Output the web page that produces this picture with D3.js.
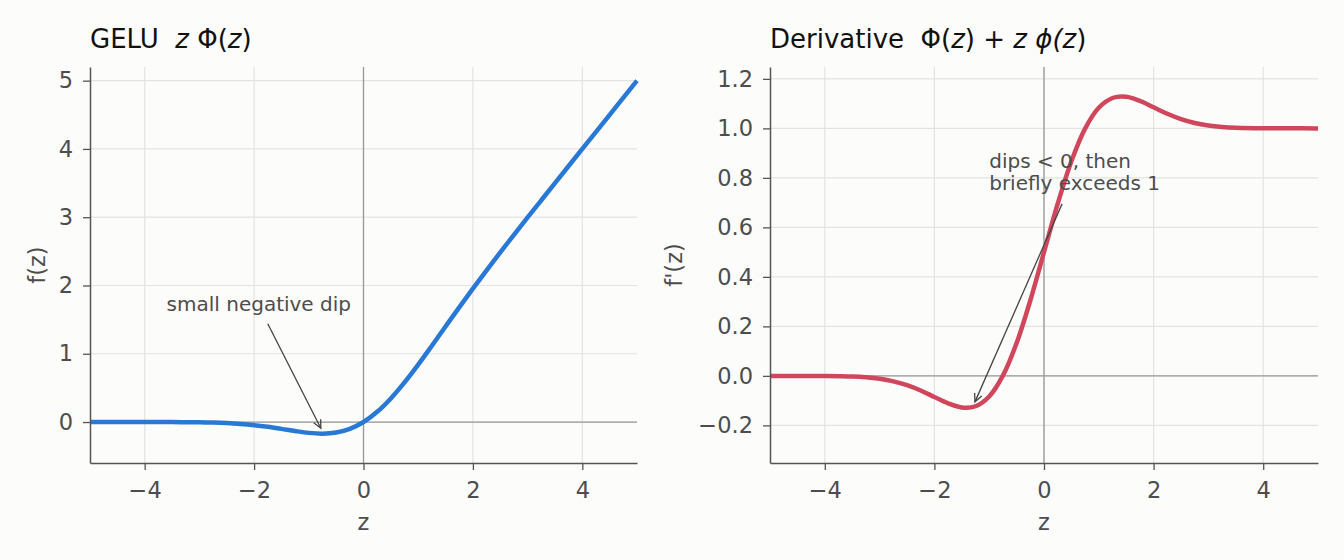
<!DOCTYPE html>
<html>
<head>
<meta charset="utf-8">
<script src="https://cdn.jsdelivr.net/npm/d3@7"></script>
<style>
  body { margin: 0; background: #fcfcfa; }
  svg { display: block; font-family: "DejaVu Sans", sans-serif; }
</style>
</head>
<body>
<div id="chart"></div>
<script>
// sample points
const zs = [-5, -4.5, -4, -3.5, -3.25, -3, -2.75, -2.5, -2.25, -2, -1.75, -1.5, -1.25, -1, -0.75, -0.5, -0.25,
  0, 0.25, 0.5, 0.75, 1, 1.25, 1.5, 1.75, 2, 2.25, 2.5, 2.75, 3, 3.25, 3.5, 4, 4.5, 5];
const gelu = [0, 0, -0.0001, -0.0008, -0.0019, -0.004, -0.0082, -0.0155, -0.0275, -0.0455, -0.0702, -0.1002, -0.132, -0.1587, -0.17, -0.1543, -0.1003,
  0, 0.1497, 0.3457, 0.58, 0.8413, 1.118, 1.3998, 1.6798, 1.9545, 2.2225, 2.4845, 2.7418, 2.996, 3.2481, 3.4992, 3.9999, 4.5, 5.0];
const deriv = [0, -0.0001, -0.0005, -0.0028, -0.006, -0.012, -0.022, -0.0376, -0.0591, -0.0852, -0.1109, -0.1275, -0.1227, -0.0833, 0.0008, 0.1325, 0.3046,
  0.5, 0.6954, 0.8675, 0.9992, 1.0833, 1.1227, 1.1275, 1.1109, 1.0852, 1.0591, 1.0376, 1.022, 1.012, 1.006, 1.0028, 1.0005, 1.0001, 1.0];

const xTicks = [-4, -2, 0, 2, 4];
const yTicksL = [0, 1, 2, 3, 4, 5];
const yTicksR = [-0.2, 0, 0.2, 0.4, 0.6, 0.8, 1.0, 1.2];

const width = 1344, height = 560;
const marginTop = 67, plotBottom = 463;
const tickFont = 22.5;

const svg = d3.create("svg")
  .attr("width", width)
  .attr("height", height)
  .attr("viewBox", [0, 0, width, height]);
d3.select("#chart").append(() => svg.node());

svg.append("rect").attr("width", width).attr("height", height).attr("fill", "#fcfcfa");

function panel(opt) {
  const x = d3.scaleLinear([-5, 5], [opt.left, opt.right]);
  const y = d3.scaleLinear(opt.yDomain, [plotBottom, marginTop]);
  const g = svg.append("g");

  // grid
  g.append("g").selectAll("line").data(xTicks).join("line")
    .attr("x1", d => x(d)).attr("x2", d => x(d))
    .attr("y1", marginTop).attr("y2", plotBottom)
    .attr("stroke", "#e3e3e3").attr("stroke-width", 1.2);
  g.append("g").selectAll("line").data(opt.yTicks).join("line")
    .attr("x1", opt.left).attr("x2", opt.right)
    .attr("y1", d => y(d)).attr("y2", d => y(d))
    .attr("stroke", "#e3e3e3").attr("stroke-width", 1.2);

  // zero lines
  g.append("line")
    .attr("x1", x(0)).attr("x2", x(0)).attr("y1", marginTop).attr("y2", plotBottom)
    .attr("stroke", "#999").attr("stroke-width", 1.3);
  g.append("line")
    .attr("x1", opt.left).attr("x2", opt.right).attr("y1", y(0)).attr("y2", y(0))
    .attr("stroke", "#999").attr("stroke-width", 1.3);

  // curve
  const line = d3.line()
    .x((d, i) => x(zs[i]))
    .y(d => y(d))
    .curve(d3.curveCatmullRom.alpha(0.5));
  g.append("path")
    .attr("fill", "none")
    .attr("stroke", opt.color)
    .attr("stroke-width", 4.5)
    .attr("stroke-linejoin", "round")
    .attr("d", line(opt.values));

  // axes
  g.append("g")
    .attr("transform", `translate(0,${plotBottom})`)
    .call(d3.axisBottom(x).tickValues(xTicks).tickSize(7).tickSizeOuter(0).tickPadding(12)
      .tickFormat(d => d3.format("d")(d).replace("-", "\u2212")))
    .call(a => a.select(".domain").attr("stroke", "#555").attr("stroke-width", 1.5))
    .call(a => a.selectAll(".tick line").attr("stroke", "#555").attr("stroke-width", 1.3))
    .call(a => a.selectAll(".tick text").attr("fill", "#4d4d4d").attr("font-size", tickFont)
      .attr("font-family", "DejaVu Sans"));
  g.append("g")
    .attr("transform", `translate(${opt.left},0)`)
    .call(d3.axisLeft(y).tickValues(opt.yTicks).tickSize(7).tickSizeOuter(0).tickPadding(10)
      .tickFormat(d => opt.yFormat(d).replace("-", "\u2212")))
    .call(a => a.select(".domain").attr("stroke", "#555").attr("stroke-width", 1.5))
    .call(a => a.selectAll(".tick line").attr("stroke", "#555").attr("stroke-width", 1.3))
    .call(a => a.selectAll(".tick text").attr("fill", "#4d4d4d").attr("font-size", tickFont)
      .attr("font-family", "DejaVu Sans"));

  // labels
  g.append("text")
    .attr("x", (opt.left + opt.right) / 2).attr("y", 530)
    .attr("text-anchor", "middle").attr("fill", "#4d4d4d").attr("font-size", tickFont)
    .text("z");
  g.append("text")
    .attr("transform", `translate(${opt.yLabelX},265) rotate(-90)`)
    .attr("text-anchor", "middle").attr("fill", "#4d4d4d").attr("font-size", tickFont)
    .text(opt.yLabel);

  // title
  const t = g.append("text")
    .attr("x", opt.left).attr("y", 48)
    .attr("fill", "#111").attr("font-size", 26);
  opt.title.forEach(([s, it]) => t.append("tspan")
    .attr("font-style", it ? "italic" : "normal")
    .attr("xml:space", "preserve")
    .text(s));

  // annotation
  const a = opt.note;
  const txt = g.append("text")
    .attr("x", x(a.tx)).attr("y", y(a.ty))
    .attr("fill", "#4d4d4d").attr("font-size", 20);
  a.lines.forEach((s, i) => txt.append("tspan").attr("x", x(a.tx)).attr("dy", i ? 22 : 0).text(s));
  const x1 = x(a.fx), y1 = y(a.fy), x2 = x(a.px), y2 = y(a.py);
  g.append("line")
    .attr("x1", x1).attr("y1", y1).attr("x2", x2).attr("y2", y2)
    .attr("stroke", "#444").attr("stroke-width", 1.3);
  const ang = Math.atan2(y2 - y1, x2 - x1);
  const hl = 9, hw = 0.45;
  g.append("path")
    .attr("d", `M${x2 - hl * Math.cos(ang - hw)},${y2 - hl * Math.sin(ang - hw)}L${x2},${y2}L${x2 - hl * Math.cos(ang + hw)},${y2 - hl * Math.sin(ang + hw)}`)
    .attr("fill", "none").attr("stroke", "#444").attr("stroke-width", 1.3);
}

panel({
  left: 90, right: 637, yDomain: [-0.6, 5.2], yTicks: yTicksL, values: gelu,
  color: "#2878d6", yFormat: d3.format("d"), yLabel: "f(z)", yLabelX: 45,
  title: [["GELU  ", false], ["z", true], [" \u03A6(", false], ["z", true], [")", false]],
  note: { tx: -3.6, ty: 1.627, lines: ["small negative dip"], fx: -1.75, fy: 1.44, px: -0.78, py: -0.09 }
});

panel({
  left: 770, right: 1318, yDomain: [-0.352, 1.248], yTicks: yTicksR, values: deriv,
  color: "#d0475d", yFormat: d3.format(".1f"), yLabel: "f'(z)", yLabelX: 682,
  title: [["Derivative  \u03A6(", false], ["z", true], [") + ", false], ["z", true], [" \u03D5(", true], ["z", true], [")", false]],
  note: { tx: -1.0, ty: 0.84, lines: ["dips < 0, then", "briefly exceeds 1"], fx: 0.33, fy: 0.695, px: -1.26, py: -0.105 }
});
</script>
</body>
</html>
